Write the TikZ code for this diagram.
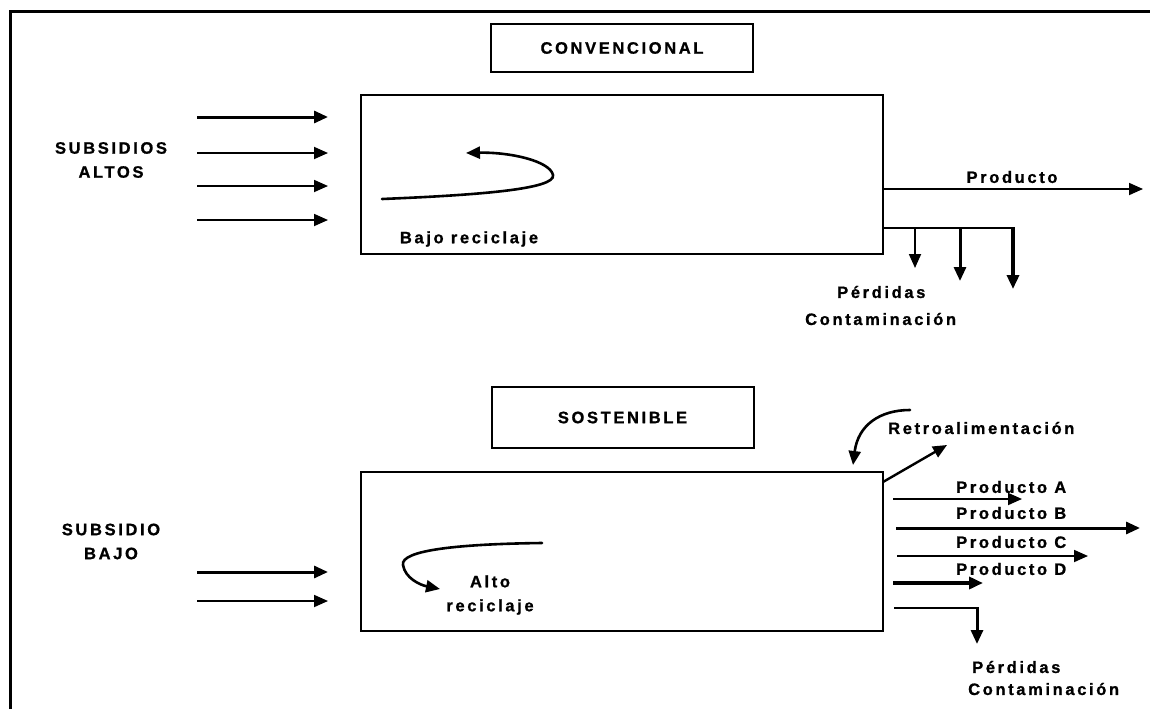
\documentclass[tikz,border=0pt]{standalone}
\usepackage{fontspec}
\setmainfont{Liberation Sans}[LetterSpace=16, BoldFeatures={FakeBold=1}]
\usetikzlibrary{arrows.meta}
\begin{document}
\begin{tikzpicture}[x=1pt,y=-1pt,
  lbl/.style={font=\fontsize{16.5}{24}\selectfont\bfseries, inner sep=0pt},
  titlebox/.style={draw, line width=2pt, minimum width=262pt, inner sep=0pt, lbl},
  sysbox/.style={draw, line width=1.8pt, minimum width=522pt, minimum height=159pt, inner sep=0pt},
  arr/.style={-{Triangle[length=14pt,width=12pt]}},
  arrthin/.style={arr, line width=1.8pt},
  arrbold/.style={arr, line width=3pt},
  curvy/.style={arr, line width=2.6pt, line cap=round},
  leak/.style={line width=1.4pt}]
\useasboundingbox (0,0) rectangle (1150,709);
% frame
\draw[line width=3pt] (10,709) -- (10,12) -- (1150,12);

% ---------- CONVENCIONAL ----------
\node[titlebox, minimum height=48pt] (conv) at (622,48) {CONVENCIONAL};
\node[sysbox] (box1) at (622,174.5) {};

\node[lbl, align=center] (subA) at (111,160) {SUBSIDIOS\\ALTOS};
\coordinate (a1) at (197,117); \coordinate (b1) at (328,117);
\coordinate (a2) at (197,153); \coordinate (b2) at (328,153);
\coordinate (a3) at (197,186); \coordinate (b3) at (328,186);
\coordinate (a4) at (197,220); \coordinate (b4) at (328,220);
\draw[arrbold] (a1) -- (b1);
\draw[arrthin] (a2) -- (b2);
\draw[arrthin] (a3) -- (b3);
\draw[arrthin] (a4) -- (b4);

\coordinate (r1s) at (382,199); \coordinate (r1e) at (466,153);
\draw[curvy] (r1s) .. controls (480,195) and (556,189) .. (553,175) .. controls (550,161) and (510,152) .. (r1e);
\node[lbl] (bajo) at (469,239) {Bajo reciclaje};

\coordinate (p0) at (883,189); \coordinate (p1) at (1143,189);
\draw[arrthin] (p0) -- (p1);
\node[lbl] (prod) at (1012,177) {Producto};

\coordinate (l0) at (883,228); \coordinate (l1) at (1013,228);
\draw[leak] (l0) -- (l1);
\coordinate (d1s) at (915,228); \coordinate (d1e) at (915,268);
\coordinate (d2s) at (960,228); \coordinate (d2e) at (960,281);
\coordinate (d3s) at (1013,227); \coordinate (d3e) at (1013,289);
\draw[arrthin] (d1s) -- (d1e);
\draw[arrbold] (d2s) -- (d2e);
\draw[arrbold, line width=3.4pt] (d3s) -- (d3e);
\node[lbl, anchor=west] (perd1) at (837,292) {Pérdidas};
\node[lbl, anchor=west] (cont1) at (805,319) {Contaminación};

% ---------- SOSTENIBLE ----------
\node[titlebox, minimum height=61pt] (sost) at (622.5,417.5) {SOSTENIBLE};
\node[sysbox] (box2) at (622,551.5) {};

\node[lbl, align=center] (subB) at (111,541.5) {SUBSIDIO\\BAJO};
\coordinate (a5) at (197,572); \coordinate (b5) at (328,572);
\coordinate (a6) at (197,601); \coordinate (b6) at (328,601);
\draw[arrbold] (a5) -- (b5);
\draw[arrthin] (a6) -- (b6);

\coordinate (r2s) at (542,543); \coordinate (r2e) at (440,589);
\draw[curvy] (r2s) .. controls (460,544) and (400,550) .. (403,565) .. controls (405,578) and (420,585) .. (r2e);
\node[lbl, align=center] (alto) at (490,595) {Alto\\reciclaje};

% feedback
\coordinate (fbs) at (910,410); \coordinate (fbe) at (853,465);
\draw[curvy] (fbs) .. controls (880,410) and (858,425) .. (fbe);
\coordinate (fo0) at (883,482); \coordinate (fo1) at (947,445);
\draw[arrthin, line width=2.4pt] (fo0) -- (fo1);
\node[lbl, anchor=west] (retro) at (888,428) {Retroalimentación};

% products
\coordinate (pa0) at (893,499); \coordinate (pa1) at (1022,499);
\coordinate (pb0) at (896,528); \coordinate (pb1) at (1140,528);
\coordinate (pc0) at (897,556); \coordinate (pc1) at (1088,556);
\coordinate (pd0) at (893,583); \coordinate (pd1) at (983,583);
\draw[arrthin] (pa0) -- (pa1);
\draw[arrbold] (pb0) -- (pb1);
\draw[arrthin] (pc0) -- (pc1);
\draw[arrbold, line width=3.6pt] (pd0) -- (pd1);
\node[lbl, anchor=west] (prA) at (956,487) {Producto A};
\node[lbl, anchor=west] (prB) at (956,513) {Producto B};
\node[lbl, anchor=west] (prC) at (956,542) {Producto C};
\node[lbl, anchor=west] (prD) at (956,569) {Producto D};

% losses
\coordinate (m0) at (894,608); \coordinate (m1) at (977,608);
\draw[leak] (m0) -- (m1);
\coordinate (m2) at (977,607); \coordinate (m3) at (977,644);
\draw[arrbold] (m2) -- (m3);
\node[lbl, anchor=west] (perd2) at (972,667) {Pérdidas};
\node[lbl, anchor=west] (cont2) at (968,689) {Contaminación};
\end{tikzpicture}
\end{document}
